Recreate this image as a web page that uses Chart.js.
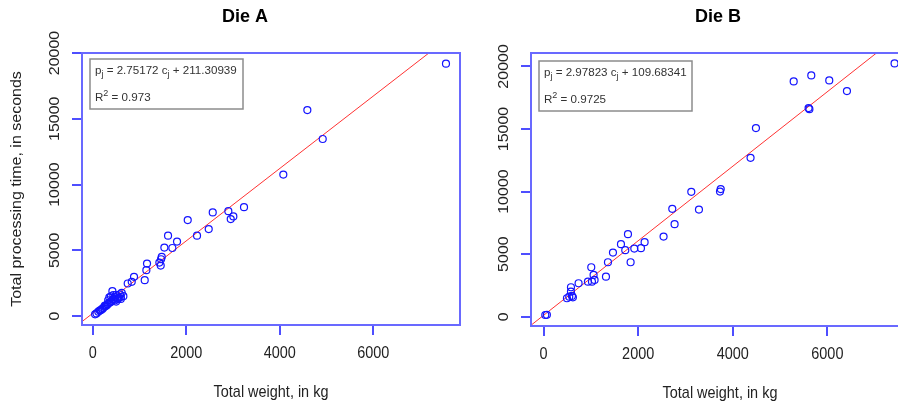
<!DOCTYPE html>
<html>
<head>
<meta charset="utf-8">
<script src="https://cdn.jsdelivr.net/npm/chart.js@4/dist/chart.umd.min.js"></script>
<style>
html, body { margin: 0; padding: 0; overflow: hidden; background: #fff; }
body { width: 898px; height: 408px; position: relative; }
canvas { position: absolute; top: 0; }
#dieA { left: 0; }
#dieB { left: 490px; }
</style>
</head>
<body>
<canvas id="dieA" width="490" height="408"></canvas>
<canvas id="dieB" width="456" height="408"></canvas>
<script>
var blue = 'rgb(20, 20, 255)';
var boxBlue = 'rgb(105, 105, 255)';
var red = 'rgb(255, 50, 50)';
var textColor = '#222';

var xTicks = [0, 2000, 4000, 6000];
var yTicks = [0, 5000, 10000, 15000, 20000];
var xTitle = 'Total weight, in kg';
var yTitle = 'Total processing time, in seconds';

////////////////////////////////////////////////////////////////////////////////
// Die A data.

var dieAWeight = [7557, 4591, 4920, 4077, 3236, 3008, 2952, 2901, 2567, 2481,
    2032, 2231, 1611, 1803, 1703, 1532, 1476, 1461, 1425, 1454,
    1161, 1147, 1112, 883, 834, 748,
    655, 620, 420, 355, 600, 580, 560, 540, 520, 500,
    480, 470, 450, 430, 400, 380, 350, 320, 300, 280,
    250, 220, 200, 170, 150, 120, 80, 50, 390, 440,
    600, 500, 330, 260];
var dieATime = [19190, 15657, 13462, 10758, 8280, 7576, 7371, 7977, 7879, 6614,
    7295, 6114, 6114, 5659, 5174, 5205, 4495, 4318, 4066, 3838,
    3990, 3485, 2727, 2980, 2600, 2475,
    1515, 1768, 1894, 1414, 1450, 1650, 1400, 1300, 1350, 1600,
    1200, 1450, 1300, 1250, 1150, 1050, 1000, 900, 820, 760,
    700, 600, 520, 450, 420, 330, 200, 130, 1500, 1600,
    1300, 1100, 1200, 800];
var dieACoef = [2.75172, 211.30939];  // slope, intercept
var dieAR2 = '0.973';

////////////////////////////////////////////////////////////////////////////////
// Die B data.

var dieBWeight = [36, 70, 494, 543, 600, 620, 579, 579, 740, 938,
    1023, 1078, 1057, 1008, 1319, 1361, 1467, 1636, 1727, 1784,
    1840, 1918, 2059, 2136, 2537, 2721, 2770, 3123, 3285, 3730,
    3745, 4376, 4490, 5288, 5603, 5620, 5660, 6040, 6414, 7421];
var dieBTime = [136, 150, 1472, 1600, 1656, 1550, 2000, 2352, 2672, 2800,
    2800, 2936, 3336, 3952, 3200, 4352, 5120, 5792, 5312, 6592,
    4352, 5440, 5472, 5952, 6400, 8616, 7392, 9976, 8560, 10000,
    10200, 12696, 15072, 18800, 16672, 16580, 19280, 18880, 18032, 20240];
var dieBCoef = [2.97823, 109.68341];
var dieBR2 = '0.9725';

function toPoints(xs, ys) {
    return xs.map(function (x, i) { return { x: x, y: ys[i] }; });
}

// Fitted line from the printed coefficients, across the whole plot.
function fitLine(coef) {
    return [-1000, 9000].map(function (x) { return { x: x, y: coef[0] * x + coef[1] }; });
}

////////////////////////////////////////////////////////////////////////////////
// R-like frame, ticks, labels and equation box.

function squishText(ctx, text, x, y, sx, sy, angle) {
    ctx.save();
    ctx.translate(x, y);
    if (angle) ctx.rotate(angle);
    ctx.scale(sx, sy);
    ctx.fillText(text, 0, 0);
    ctx.restore();
}

var rStyle = {
    id: 'rStyle',
    afterDraw: function (chart, args, opts) {
        var ctx = chart.ctx;
        var area = chart.chartArea;
        var xs = chart.scales.x;
        var ys = chart.scales.y;
        ctx.save();

        // Title (sits off-centre on the left panel, as in the original).
        ctx.fillStyle = '#000';
        ctx.textAlign = 'center';
        ctx.textBaseline = 'middle';
        ctx.font = 'bold 18px "Liberation Sans", Arial, sans-serif';
        ctx.fillText(opts.title, opts.titleX, 17);

        // Box around the plot.
        ctx.strokeStyle = boxBlue;
        ctx.lineWidth = 2;
        ctx.strokeRect(area.left, area.top, area.right - area.left, area.bottom - area.top);

        // Tick marks.
        ctx.strokeStyle = blue;
        ctx.lineWidth = 1.5;
        ctx.beginPath();
        xTicks.forEach(function (v) {
            var px = Math.round(xs.getPixelForValue(v));
            ctx.moveTo(px, area.bottom + 1);
            ctx.lineTo(px, area.bottom + 10);
        });
        yTicks.forEach(function (v) {
            var py = Math.round(ys.getPixelForValue(v));
            if (py < area.top - 1) return;
            ctx.moveTo(area.left - 1, py);
            ctx.lineTo(area.left - 10, py);
        });
        ctx.stroke();

        // Tick labels.
        ctx.fillStyle = textColor;
        ctx.font = '17px "Liberation Sans", Arial, sans-serif';
        xTicks.forEach(function (v) {
            squishText(ctx, String(v), xs.getPixelForValue(v), area.bottom + 28, 0.85, 1, 0);
        });
        ctx.font = '16px "Liberation Sans", Arial, sans-serif';
        yTicks.forEach(function (v) {
            var py = ys.getPixelForValue(v);
            if (py < area.top - 1) return;
            squishText(ctx, String(v), area.left - 27, py, 1, 0.9, -Math.PI / 2);
        });

        // Axis titles.
        ctx.font = '17px "Liberation Sans", Arial, sans-serif';
        squishText(ctx, xTitle, (area.left + area.right) / 2, area.bottom + 67, 0.85, 1, 0);
        if (opts.showYTitle) {
            ctx.font = '16px "Liberation Sans", Arial, sans-serif';
            squishText(ctx, yTitle, area.left - 65, (area.top + area.bottom) / 2, 1, 0.95, -Math.PI / 2);
        }

        // Equation box.
        var bx = area.left + opts.boxDx;
        var by = area.top + opts.boxDy;
        ctx.fillStyle = '#fff';
        ctx.fillRect(bx, by, 153, 50);
        ctx.strokeStyle = 'rgb(140, 140, 140)';
        ctx.lineWidth = 1.5;
        ctx.strokeRect(bx, by, 153, 50);

        ctx.fillStyle = '#333';
        ctx.textAlign = 'left';
        ctx.textBaseline = 'alphabetic';
        var big = '11.6px "Liberation Sans", Arial, sans-serif';
        var small = '9px "Liberation Sans", Arial, sans-serif';
        var line1 = [
            ['p', big, 0], ['j', small, 3], [' = ' + opts.coef[0].toFixed(5) + ' c', big, 0],
            ['j', small, 3], [' + ' + opts.coef[1].toFixed(5), big, 0]
        ];
        var line2 = [['R', big, 0], ['2', small, -5], [' = ' + opts.r2, big, 0]];
        [[line1, by + 15], [line2, by + 42]].forEach(function (ln) {
            var x = bx + 5;
            ln[0].forEach(function (part) {
                ctx.font = part[1];
                ctx.fillText(part[0], x, ln[1] + part[2]);
                x += ctx.measureText(part[0]).width;
            });
        });

        ctx.restore();
    }
};

function makeChart(id, title, weight, time, coef, r2, xRange, yRange, pad, rOpts) {
    var ctx = document.getElementById(id).getContext('2d');
    rOpts.title = title;
    rOpts.coef = coef;
    rOpts.r2 = r2;
    return new Chart(ctx, {
        type: 'scatter',
        plugins: [rStyle],
        data: {
            datasets: [{
                label: 'observed',
                data: toPoints(weight, time),
                pointStyle: 'circle',
                pointRadius: 3.5,
                pointBorderWidth: 1.2,
                borderColor: blue,
                backgroundColor: 'rgba(0,0,0,0)'
            }, {
                label: 'fit',
                data: fitLine(coef),
                showLine: true,
                pointRadius: 0,
                borderColor: red,
                borderWidth: 1,
                clip: 0
            }]
        },
        options: {
            responsive: false,
            animation: false,
            layout: { padding: pad },
            scales: {
                x: { type: 'linear', display: false, min: xRange[0], max: xRange[1] },
                y: { type: 'linear', display: false, min: yRange[0], max: yRange[1] }
            },
            plugins: {
                legend: { display: false },
                tooltip: { enabled: false },
                title: { display: false },
                rStyle: rOpts
            }
        }
    });
}

makeChart('dieA', 'Die A', dieAWeight, dieATime, dieACoef, dieAR2,
    [-230, 7857], [-680, 20000],
    { left: 82, right: 30, top: 53, bottom: 83 },
    { showYTitle: true, titleX: 245, boxDx: 8, boxDy: 6 });

makeChart('dieB', 'Die B', dieBWeight, dieBTime, dieBCoef, dieBR2,
    [-266, 7726], [-744, 21072],
    { left: 41, right: 37, top: 53, bottom: 82 },
    { showYTitle: false, titleX: 228, boxDx: 8, boxDy: 8 });
</script>
</body>
</html>
